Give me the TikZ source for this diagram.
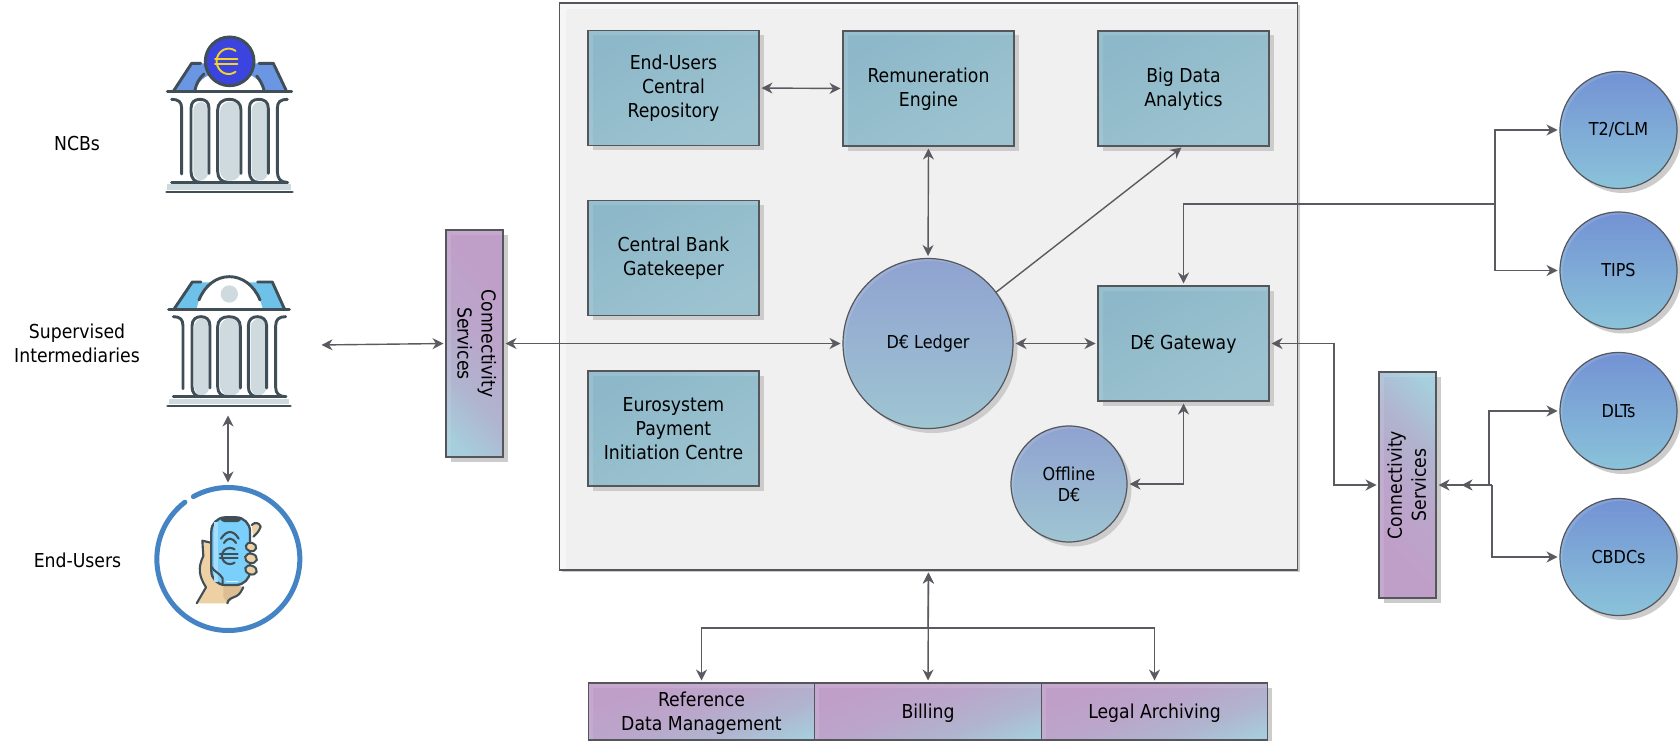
\documentclass[tikz,border=0pt]{standalone}
\usepackage{fontspec}
\setmainfont{DejaVu Sans Condensed}
\usetikzlibrary{arrows.meta,shadows,positioning}
\definecolor{edge}{HTML}{55565C}
\definecolor{wire}{HTML}{5A5A61}
\definecolor{ink}{HTML}{3F4E57}
\definecolor{pale}{HTML}{CFDADF}
\definecolor{tealA}{HTML}{8DB8C9}
\definecolor{tealB}{HTML}{9DC3D0}
\definecolor{purpA}{HTML}{BF9FC8}
\definecolor{purpM}{HTML}{BBA5CA}
\definecolor{purpN}{HTML}{B0B4CF}
\definecolor{blueB}{HTML}{A6CEDC}
\definecolor{circA}{HTML}{7392D4}
\definecolor{circB}{HTML}{8AC3D9}
\definecolor{coreA}{HTML}{8FA2D0}
\definecolor{coreB}{HTML}{9FC5D2}
\definecolor{shadowc}{HTML}{CCCCCC}
\definecolor{skin}{HTML}{EDD0A4}
\definecolor{skinD}{HTML}{DDBD92}
\definecolor{euroY}{HTML}{F5D327}
\definecolor{euroB}{HTML}{3B44DE}
\definecolor{roofA}{HTML}{6B96E4}
\definecolor{roofB}{HTML}{6EC1E8}
\definecolor{ringc}{HTML}{4484C4}
\definecolor{screen}{HTML}{7AD0FB}
\definecolor{screenL}{HTML}{A5DEFA}
\pgfdeclareverticalshading{purpleblue}{100bp}{color(0bp)=(blueB); color(20bp)=(blueB); color(36bp)=(purpN); color(54bp)=(purpM); color(70bp)=(purpA); color(100bp)=(purpA)}
\newcommand{\shifted}[2]{\vbox{\kern #1\hbox{\begin{tabular}{@{}c@{}}#2\end{tabular}}}}
\tikzset{
  x=1pt,y=-1pt,
  basetext/.style={font=\fontsize{19.2}{24}\selectfont,align=center,text=black},
  small/.style={font=\fontsize{17.8}{21}\selectfont,align=center,text=black},
  softshadow/.style={drop shadow={shadow xshift=4.5pt,shadow yshift=-4.5pt,fill=shadowc,opacity=1}},
  anybox/.style={rectangle,draw=edge,line width=1.3pt,inner sep=0pt,outer sep=0pt,softshadow,basetext},
  rimbox/.style={path picture={
     \fill[white,opacity=.1] (path picture bounding box.north west) rectangle ([xshift=4.5pt]path picture bounding box.south west);
     \fill[white,opacity=.1] ([xshift=4.5pt]path picture bounding box.north west) rectangle ([yshift=-4.5pt]path picture bounding box.north east);}},
  tealbox/.style={anybox,rimbox,minimum width=171pt,minimum height=115pt,left color=tealA,right color=tealB,shading angle=30},
  barh/.style={anybox,rimbox,minimum width=226.5pt,minimum height=57pt,shading=purpleblue,shading angle=20},
  barL/.style={anybox,rimbox,minimum width=57pt,minimum height=227pt,shading=purpleblue,shading angle=-45},
  barR/.style={anybox,rimbox,minimum width=57pt,minimum height=226pt,shading=purpleblue,shading angle=135},
  ball/.style={circle,draw=edge,line width=1.2pt,inner sep=0pt,outer sep=0pt,softshadow,minimum size=#1,
     path picture={\fill[white,opacity=.12,even odd rule] (path picture bounding box.center) circle ({#1/2})
        ([xshift=2.5pt,yshift=-2.5pt]path picture bounding box.center) circle ({#1/2});}},
  extball/.style={ball=117pt,top color=circA,bottom color=circB,small},
  coreball/.style={ball=#1,top color=coreA,bottom color=coreB,small},
  frame/.style={rectangle,draw=edge,line width=1.4pt,fill=white!94!black,inner sep=0pt,outer sep=0pt,
     drop shadow={shadow xshift=2pt,shadow yshift=-2pt,fill=shadowc,opacity=1},
     minimum width=738pt,minimum height=567pt,
     path picture={\draw[white,opacity=.45,line width=12pt] (path picture bounding box.south west) -- (path picture bounding box.north west) -- (path picture bounding box.north east);}},
  sidelabel/.style={basetext,inner sep=0pt},
  wirebase/.style={draw=wire,line width=1.4pt,shorten >=2.5pt,shorten <=2.5pt},
  both/.style={wirebase,{Stealth[length=11pt,width=11pt,inset=3.5pt]}-{Stealth[length=11pt,width=11pt,inset=3.5pt]}},
  oneway/.style={wirebase,shorten <=0pt,-{Stealth[length=11pt,width=11pt,inset=3.5pt]}},
  iconline/.style={draw=ink,line width=2.9pt,line cap=round,line join=round},
  thinicon/.style={draw=ink,line width=2.1pt,line cap=round,line join=round},
}
\begin{document}
\begin{tikzpicture}
\useasboundingbox (0,0) rectangle (1680,741);
\fill[white] (0,0) rectangle (1680,741);

% ---- left labels
\node[sidelabel] (ncblabel) at (77,144) {NCBs};
\node[sidelabel] (silabel) at (77,343.5) {Supervised\\Intermediaries};
\node[sidelabel] (eulabel) at (77.5,560) {End-Users};

% ---- main frame
\node[frame] (frame) at (928.5,286.5) {};

% ---- boxes
\node[tealbox] (repo) at (673.5,88) {End-Users\\Central\\Repository};
\node[tealbox] (remun) at (928.5,88.5) {\shifted{1.6pt}{Remuneration\\Engine}};
\node[tealbox] (bigdata) at (1183.5,88.5) {\shifted{1.6pt}{Big Data\\Analytics}};
\node[tealbox] (gatekeeper) at (673.5,258) {Central Bank\\Gatekeeper};
\node[tealbox] (epic) at (673.5,428.5) {Eurosystem\\Payment\\Initiation Centre};
\node[tealbox] (gateway) at (1183.5,343.5) {\shifted{2pt}{D€ Gateway}};
\node[coreball=170pt] (ledger) at (928,343.5) {D€ Ledger};
\node[coreball=116pt] (offline) at (1069,484) {Offline\\D€};

% ---- outer circles
\node[extball] (t2) at (1618.5,130) {T2/CLM};
\node[extball] (tips) at (1618.5,270.5) {TIPS};
\node[extball] (dlts) at (1618.5,411) {DLTs};
\node[extball] (cbdcs) at (1618.5,557) {CBDCs};

% ---- connectivity bars
\node[barL] (lconn) at (474.5,343.5) {\rotatebox{-90}{\begin{tabular}{@{}c@{}}Connectivity\\Services\end{tabular}}};
\node[barR] (rconn) at (1407.5,485) {\hspace{3pt}\rotatebox{90}{\begin{tabular}{@{}c@{}}Connectivity\\Services\end{tabular}}};

% ---- bottom bars
\node[barh] (refdata) at (701.5,711.5) {\shifted{5pt}{Reference\\Data Management}};
\node[barh] (billing) at (928,711.5) {\shifted{5pt}{Billing}};
\node[barh] (legal) at (1154.5,711.5) {\shifted{5pt}{Legal Archiving}};

% ---- free ends and junctions
\coordinate (siend) at (319,345);
\coordinate (bankfoot) at (228,413);
\coordinate (phonetop) at (228,485);
\coordinate (tj) at (1495,204);
\coordinate (rj) at (1489,485);
\coordinate (rk) at (1492,485);
\coordinate (rmid) at (1459,485);
\coordinate (ga) at (1334,343.5);
\coordinate (gb) at (1334,485);
\coordinate (bj) at (928,628);

% ---- connectors
\draw[both] (siend) -- (lconn.west);
\draw[both] (bankfoot) -- (phonetop);
\draw[both] (lconn.east) -- (ledger.west);
\draw[both] (repo.east) -- (remun.west);
\draw[both] (remun.south) -- (ledger.north);
\draw[oneway] (ledger.37.5) -- (bigdata.south);
\draw[both] (ledger.east) -- (gateway.west);
\draw[oneway] (tj) -| (gateway.north);
\draw[oneway] (tj) |- (t2.west);
\draw[oneway] (tj) |- (tips.west);
\draw[both] (gateway.east) -- (ga) -- (gb) -- (rconn.west);
\draw[both] (offline.east) -| (gateway.south);
\draw[oneway] (rk) -- (rconn.east);
\draw[oneway] (rk) -- (rmid);
\draw[oneway] (rj) |- (dlts.west);
\draw[oneway] (rk) |- (cbdcs.west);
\draw[both] (billing.north) -- (frame.south);
\draw[oneway] (bj) -- (frame.south);
\draw[oneway] (bj) -| (refdata.north);
\draw[oneway] (bj) -| (legal.north);

% ---- NCB bank icon
\begin{scope}[shift={(130,0)},x=0.33333pt,y=-0.33333pt]
  \fill[fill=pale,rounded corners=9pt] (190,305) rectangle (236,542);
  \fill[fill=pale,rounded corners=10pt] (270,305) rectangle (333,542);
  \fill[fill=pale,rounded corners=9pt] (365,305) rectangle (415,542);
  \fill[pale] (112,553) rectangle (484,571);
  \fill[roofA] (133,274) -- (185,190) -- (430,190) -- (470,274) -- cycle;
  \fill[white] (197,274) .. controls (205,235) and (240,215) .. (299,215) .. controls (360,215) and (392,235) .. (402,274) -- cycle;
  \draw[iconline] (195,270) .. controls (199,250) and (208,235) .. (222,222);
  \draw[iconline] (380,228) .. controls (390,240) and (398,255) .. (402,270);
  \draw[iconline] (130,274) -- (185,190) -- (212,190);
  \draw[iconline] (387,190) -- (430,190) -- (468,270);
  \draw[iconline] (112,275) -- (485,275);
  \draw[iconline] (125,298) .. controls (145,298) and (155,305) .. (155,325) -- (155,522);
  \draw[iconline] (237,520) -- (237,325) .. controls (237,305) and (225,298) .. (210,298) .. controls (195,298) and (183,305) .. (183,325) -- (183,515) .. controls (183,535) and (195,547) .. (210,547);
  \draw[iconline] (333,520) -- (333,330) .. controls (333,310) and (320,298) .. (298,298) .. controls (276,298) and (263,310) .. (263,330) -- (263,515) .. controls (263,535) and (275,547) .. (295,547);
  \draw[iconline] (415,520) -- (415,325) .. controls (415,305) and (402,298) .. (387,298) .. controls (370,298) and (358,305) .. (358,325) -- (358,515) .. controls (358,535) and (370,547) .. (385,547);
  \draw[iconline] (472,298) .. controls (452,298) and (442,305) .. (442,325) -- (442,515) .. controls (442,535) and (452,547) .. (470,547);
  \draw[iconline] (125,547) -- (473,547);
  \draw[iconline] (110,576) -- (487,576);
  \filldraw[draw=ink,line width=3pt,fill=euroB] (299,184) circle (73);
  \draw[draw=euroY,line width=1.9pt,line cap=round] plot[domain=55:305,samples=40] ({296+36*cos(\x)},{184-38*sin(\x)});
  \draw[draw=euroY,line width=1.9pt,line cap=round] (255,177) -- (322,177) (255,191) -- (322,191);
\end{scope}

% ---- intermediary bank icon
\begin{scope}[shift={(130,250)},x=0.33333pt,y=-0.33333pt]
  \fill[fill=pale,rounded corners=9pt] (192,205) rectangle (238,437);
  \fill[fill=pale,rounded corners=10pt] (270,205) rectangle (333,437);
  \fill[fill=pale,rounded corners=9pt] (362,205) rectangle (410,437);
  \fill[pale] (118,447) rectangle (476,463);
  \fill[roofB] (135,176) -- (187,97) -- (427,97) -- (463,176) -- cycle;
  \fill[white] (200,176) -- (207,150) .. controls (225,105) and (260,80) .. (298,80) .. controls (336,80) and (372,105) .. (390,150) -- (398,176) -- cycle;
  \fill[pale] (298,132) circle (26);
  \draw[iconline] (207,150) .. controls (225,105) and (260,80) .. (298,80) .. controls (336,80) and (372,105) .. (390,150);
  \draw[iconline] (133,176) -- (187,96) -- (213,96);
  \draw[iconline] (383,96) -- (427,96) -- (463,176);
  \draw[iconline] (116,178) -- (478,178);
  \draw[iconline] (130,200) .. controls (150,200) and (159,208) .. (159,228) -- (159,416);
  \draw[iconline] (240,414) -- (240,228) .. controls (240,208) and (228,200) .. (213,200) .. controls (198,200) and (186,208) .. (186,228) -- (186,410) .. controls (186,430) and (198,440) .. (212,440);
  \draw[iconline] (331,414) -- (331,230) .. controls (331,210) and (318,200) .. (297,200) .. controls (276,200) and (263,210) .. (263,230) -- (263,410) .. controls (263,430) and (275,440) .. (295,440);
  \draw[iconline] (410,414) -- (410,228) .. controls (410,208) and (397,200) .. (382,200) .. controls (367,200) and (355,208) .. (355,228) -- (355,410) .. controls (355,430) and (367,440) .. (382,440);
  \draw[iconline] (467,200) .. controls (447,200) and (437,208) .. (437,228) -- (437,412) .. controls (437,430) and (447,440) .. (467,440);
  \draw[iconline] (130,440) -- (468,440);
  \draw[iconline] (113,468) -- (481,468);
\end{scope}

% ---- phone icon
\begin{scope}[shift={(140,470)},x=0.33333pt,y=-0.33333pt]
  \draw[draw=ringc,line width=5pt,line cap=round]
     plot[domain=127.4:479.3,samples=140] ({265+214.5*cos(\x)},{267-214.5*sin(\x)});
  % hand
  \fill[skin] (170,400) -- (198,352) .. controls (178,320) and (172,295) .. (190,258) -- (187,212) -- (212,218) -- (214,290) -- (250,345) -- (310,350) .. controls (305,372) and (285,378) .. (262,400) -- cycle;
  \fill[skinD] (250,345) -- (310,350) .. controls (305,372) and (285,378) .. (262,400) -- (250,380) -- cycle;
  \fill[skin] (335,165) .. controls (345,155) and (358,158) .. (362,170) .. controls (358,182) and (350,192) .. (340,200) -- cycle;
  \draw[thinicon] (335,165) .. controls (345,155) and (358,158) .. (362,170) .. controls (358,182) and (350,192) .. (340,200);
  % phone
  \filldraw[draw=ink,line width=2.3pt,fill=screen,rounded corners=14pt] (214,142) rectangle (330,345);
  \fill[screenL] (222,155) rectangle (233,335);
  \fill[ink] (240,144) -- (305,144) .. controls (303,152) and (298,156) .. (292,156) -- (253,156) .. controls (247,156) and (242,152) .. (240,144) -- cycle;
  \draw[draw=white!85!cyan,line width=1pt] (258,333) -- (295,333);
  % waves and euro
  \draw[thinicon] (243,206) .. controls (252,192) and (262,186) .. (270,186) .. controls (278,186) and (288,192) .. (296,206);
  \draw[thinicon] (252,219) .. controls (258,210) and (264,206) .. (270,206) .. controls (276,206) and (282,210) .. (288,219);
  \draw[thinicon] plot[domain=55:305,samples=40] ({270+24*cos(\x)},{258-24*sin(\x)});
  \draw[thinicon] (240,252) -- (293,252) (240,265) -- (293,265);
  % fingers and hand outline
  \draw[thinicon] (170,400) -- (198,352) .. controls (178,320) and (172,295) .. (190,258) -- (187,212) -- (212,218);
  \draw[thinicon] (214,290) .. controls (222,305) and (240,310) .. (248,325) -- (248,342);
  \draw[thinicon] (262,400) .. controls (265,385) and (275,385) .. (290,378) .. controls (300,372) and (305,362) .. (310,352);
  \filldraw[draw=ink,line width=2pt,fill=skin,rotate around={-15:(333,231)}] (333,231) ellipse (16 and 13);
  \filldraw[draw=ink,line width=2pt,fill=skin,rotate around={-15:(333,265)}] (333,265) ellipse (18 and 14);
  \filldraw[draw=ink,line width=2pt,fill=skin,rotate around={-20:(333,300)}] (333,300) ellipse (18 and 13);
\end{scope}
\end{tikzpicture}
\end{document}
